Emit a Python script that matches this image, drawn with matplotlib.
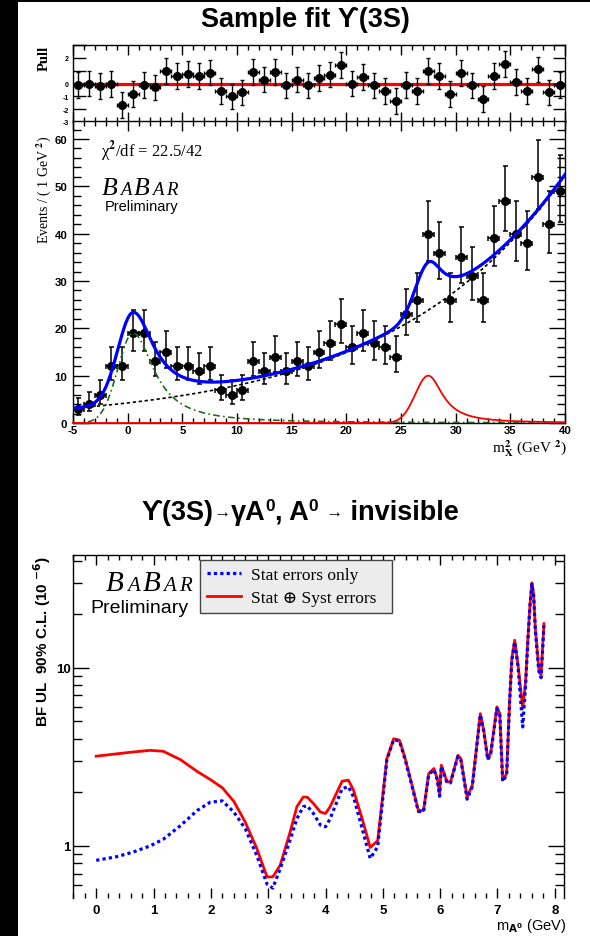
import numpy as np
import matplotlib
matplotlib.use("Agg")
import matplotlib.pyplot as plt
from matplotlib.patches import Rectangle
from matplotlib.ticker import FixedLocator, MultipleLocator, FixedFormatter, NullFormatter

SANS = ["Liberation Sans", "DejaVu Sans"]
SERIF = ["Liberation Serif", "DejaVu Serif"]

plt.rcParams.update({
    "font.family": SANS,
    "font.weight": "bold",
    "axes.unicode_minus": False,
    "mathtext.fontset": "dejavusans",
})

# ---------------- sample fit, Upsilon(3S) ----------------
mass2_edges = np.arange(-5, 41, 1)          # 45 bins of 1 GeV^2
events = [3, 4, 6, 12, 12, 19, 19, 13, 15, 12,
          12, 11, 12, 7, 6, 7, 13, 11, 14, 11,
          13, 12, 15, 17, 21, 16, 19, 17, 16, 14,
          23, 26, 40, 36, 26, 35, 31, 26, 39, 47,
          40, 38, 52, 42, 49]
pulls = [-0.1, 0.0, -0.2, -0.05, -1.7, -0.8, -0.1, -0.3, 0.95, 0.6,
         0.75, 0.6, 0.85, -0.6, -1.0, -0.7, 0.9, 0.3, 0.9, -0.15,
         0.3, -0.15, 0.45, 0.7, 1.45, 0.0, 0.5, -0.15, -0.6, -1.35,
         -0.1, -0.6, 1.0, 0.6, -0.8, 0.8, -0.15, -1.2, 0.6, 1.5,
         0.1, -0.6, 1.1, -0.7, -0.1]
pull_err = 1.0

bkg_pars = [4.24, 0.0628, 0.0]      # a*exp(b*x) + c
peak_pars = [0.5, 19.0, 1.4, 2.3]   # position, height, left sigma, right half-width
sig_pars = [27.5, 10.0, 1.2, 1.6]   # A0 signal shape at m_X^2 = 27.5
chi2_text = "22.5/42"

# ---------------- BF upper limits vs m_A0 ----------------
m_A = [0.00, 0.36, 0.65, 0.94, 1.17, 1.47, 1.76, 1.99, 2.20, 2.40,
       2.60, 2.80, 2.98, 3.08, 3.21, 3.39, 3.50, 3.61, 3.68, 3.79,
       3.91, 4.00, 4.08, 4.29, 4.40, 4.49, 4.64, 4.78, 4.91, 5.07,
       5.19, 5.29, 5.39, 5.51, 5.62, 5.71, 5.80, 5.89, 5.95, 5.99,
       6.02, 6.12, 6.18, 6.31, 6.36, 6.47, 6.56, 6.70, 6.76, 6.83,
       6.88, 6.99, 7.04, 7.09, 7.16, 7.21, 7.25, 7.30, 7.36, 7.44,
       7.49, 7.53, 7.57, 7.60, 7.63, 7.66, 7.72, 7.76, 7.81]
ul_syst = [3.19, 3.29, 3.37, 3.44, 3.40, 3.05, 2.62, 2.36, 2.12, 1.78,
           1.36, 0.97, 0.67, 0.67, 0.78, 1.22, 1.66, 1.88, 1.88, 1.73,
           1.55, 1.52, 1.66, 2.31, 2.34, 2.05, 1.42, 0.98, 1.07, 3.09,
           4.00, 3.92, 3.09, 2.19, 1.58, 1.58, 2.55, 2.72, 2.39, 1.97,
           2.84, 2.29, 2.29, 3.23, 3.09, 1.88, 2.19, 5.53, 4.46, 3.09,
           3.30, 6.04, 5.53, 2.34, 2.55, 6.44, 11.3, 14.3, 10.3, 5.91,
           8.34, 14.6, 23.5, 30.0, 26.0, 16.6, 9.9, 9.1, 17.7]
ul_stat = [0.83, 0.87, 0.925, 1.00, 1.09, 1.30, 1.58, 1.76, 1.79, 1.55,
           1.25, 0.885, 0.61, 0.58, 0.745, 1.10, 1.42, 1.66, 1.68, 1.52,
           1.31, 1.28, 1.42, 2.10, 2.15, 1.88, 1.25, 0.85, 0.99, 3.05,
           3.95, 3.88, 3.05, 2.15, 1.56, 1.56, 2.52, 2.68, 2.35, 1.90,
           2.80, 2.26, 2.26, 3.18, 3.05, 1.83, 2.15, 5.45, 4.40, 3.05,
           3.25, 5.90, 5.45, 2.30, 2.50, 6.30, 11.0, 14.0, 10.0, 4.66,
           8.00, 14.2, 23.0, 29.5, 25.5, 16.3, 9.6, 8.8, 17.3]


def background(x, a, b, c):
    return a * np.exp(b * x) + c


def peak(x, mu, h, sig_l, gam_r):
    left = h * np.exp(-0.5 * ((x - mu) / sig_l) ** 2)
    right = h / (1.0 + ((x - mu) / gam_r) ** 2)
    return np.where(x < mu, left, right)


W, H = 590, 937
fig = plt.figure(figsize=(W / 100, H / 100), dpi=100)
fig.patch.set_facecolor("black")
fig.add_artist(Rectangle((18 / W, 0), 1 - 18 / W, (H - 3) / H,
                         transform=fig.transFigure, facecolor="white",
                         edgecolor="none", zorder=-10))


def rect(l, t, r, b):
    return [l / W, 1 - b / H, (r - l) / W, (b - t) / H]


def fx(px):
    return px / W


def fy(py):
    return 1 - py / H


renderer = fig.canvas.get_renderer()


def draw_runs(x, y, runs, align="left", track=0.0, **common):
    """Consecutive text runs on one baseline; x, y in pixels from top-left."""
    items = []
    for s, size, dy, kw in runs:
        props = dict(common)
        props.update(kw)
        t = fig.text(0, 0, s, fontsize=size, va="baseline", ha="left", **props)
        w = t.get_window_extent(renderer).width
        items.append((t, w, dy))
    total = sum(w for _, w, _ in items) + track * (len(items) - 1)
    cx = x - total / 2 if align == "center" else x
    for t, w, dy in items:
        t.set_position((fx(cx), fy(y - dy)))
        cx += w + track


def style_axes(ax, lw=1.0):
    for sp in ax.spines.values():
        sp.set_linewidth(lw)
        sp.set_color("black")


# ---------------- pull panel ----------------
centers = 0.5 * (mass2_edges[:-1] + mass2_edges[1:])
n = np.asarray(events, dtype=float)
err_hi = 0.5 + np.sqrt(n + 0.25)
err_lo = np.sqrt(n + 0.25) - 0.5

ax_p = fig.add_axes(rect(73, 46, 565, 123))
ax_p.axhline(0, color="red", lw=2.3, zorder=1)
ax_p.errorbar(centers, pulls, yerr=pull_err, xerr=0.5, fmt="o", color="black",
              ms=5.5, capsize=1.6, elinewidth=1.0, capthick=1.0, zorder=3)
ax_p.set_xlim(-5, 40)
ax_p.set_ylim(-3, 3)
ax_p.xaxis.set_major_locator(MultipleLocator(5))
ax_p.xaxis.set_minor_locator(MultipleLocator(1))
ax_p.yaxis.set_major_locator(FixedLocator([-3, -2, -1, 0, 1, 2, 3]))
ax_p.yaxis.set_major_formatter(FixedFormatter(["-3", "-2", "-1", "0", "", "2", ""]))
ax_p.tick_params(axis="both", which="both", direction="in", top=True, right=True, width=1)
ax_p.tick_params(axis="x", which="major", length=7, labelbottom=False)
ax_p.tick_params(axis="x", which="minor", length=3.5)
ax_p.tick_params(axis="y", which="major", length=9, labelsize=5, pad=3)
style_axes(ax_p)

# ---------------- fit panel ----------------
ax_m = fig.add_axes(rect(73, 122, 565, 424))
xx = np.linspace(-5, 40, 1200)
bk = background(xx, *bkg_pars)
p1 = peak(xx, *peak_pars)
p2 = peak(xx, *sig_pars)
ax_m.errorbar(centers, n, yerr=[err_lo, err_hi], xerr=0.5, fmt="o", color="black",
              ms=5.5, capsize=1.8, elinewidth=1.1, capthick=1.1, zorder=2)
ax_m.plot(xx, bk, color="black", lw=1.2, ls=(0, (2, 1.6)), zorder=3)
ax_m.plot(xx, p1, color="#1f6b1f", lw=1.2, ls=(0, (4, 2, 1, 2)), zorder=3)
ax_m.plot(xx, p2, color="red", lw=1.3, zorder=4, clip_on=False)
ax_m.plot(xx, bk + p1 + p2, color="#0000ff", lw=2.3, zorder=5)
ax_m.set_xlim(-5, 40)
ax_m.set_ylim(0, 63.8)
ax_m.xaxis.set_major_locator(MultipleLocator(5))
ax_m.xaxis.set_minor_locator(MultipleLocator(1))
ax_m.yaxis.set_major_locator(MultipleLocator(10))
ax_m.yaxis.set_minor_locator(MultipleLocator(2))
ax_m.tick_params(axis="both", which="both", direction="in", top=True, right=True, width=1)
ax_m.tick_params(axis="x", which="major", length=7, labelsize=8.2, pad=1.5)
ax_m.tick_params(axis="x", which="minor", length=3.5)
ax_m.tick_params(axis="y", which="major", length=11.5, labelsize=8.2, pad=4)
ax_m.tick_params(axis="y", which="minor", length=5.5)
style_axes(ax_m)

fig.text(fx(101), fy(157), "χ$^{2}$/df = " + chi2_text, fontsize=12,
         family=SERIF, fontweight="normal", math_fontfamily="stix",
         ha="left", va="baseline")
draw_runs(102, 195, [("B", 18.5, 0, {}), ("A", 13.5, 0, {}), ("B", 18.5, 0, {}),
                     ("A", 13.5, 0, {}), ("R", 13.5, 0, {})],
          track=2.5, family=SERIF, style="italic", fontweight="normal")
fig.text(fx(105), fy(211), "Preliminary", fontsize=10.5, fontweight="normal",
         ha="left", va="baseline")
fig.text(fx(44), fy(190), "Events / ( 1 GeV $^{2}$)", rotation=90, fontsize=10,
         family=SERIF, fontweight="normal", math_fontfamily="stix",
         ha="center", va="center")
fig.text(fx(44), fy(58), "Pull", rotation=90, fontsize=10.5, family=SERIF,
         fontweight="bold", ha="center", va="center")
fig.text(fx(492), fy(453), "m$^{2}_{\\mathrm{X}}$ (GeV $^{2}$)", fontsize=11,
         family=SERIF, fontweight="normal", math_fontfamily="stix",
         ha="left", va="baseline")
fig.text(fx(305), fy(27), "Sample fit ϒ(3S)", fontsize=19.5, fontweight="bold",
         ha="center", va="baseline")

# ---------------- upper limit panel ----------------
draw_runs(300, 520, [("ϒ(3S)", 19.5, 0, {}), ("→", 12.5, 2, {}), ("γA", 19.5, 0, {}),
                     ("0", 12.5, 9, {}), (", A", 19.5, 0, {}), ("0", 12.5, 9, {}),
                     (" ", 19.5, 0, {}), ("→", 12.5, 2, {}), (" invisible", 19.5, 0, {})],
          align="center", fontweight="bold")

ax_b = fig.add_axes(rect(72.7, 556, 564, 899))
l_syst, = ax_b.plot(m_A, ul_syst, color="red", lw=2.0, zorder=3)
l_stat, = ax_b.plot(m_A, ul_stat, color="#0000ff", lw=2.3, ls=(0, (1, 1)), zorder=4)
ax_b.set_yscale("log")
ax_b.set_xlim(-0.41, 8.16)
ax_b.set_ylim(0.51, 43)
ax_b.xaxis.set_major_locator(MultipleLocator(1))
ax_b.xaxis.set_minor_locator(MultipleLocator(0.2))
ax_b.yaxis.set_major_locator(FixedLocator([1, 10]))
ax_b.yaxis.set_major_formatter(FixedFormatter(["1", "10"]))
ax_b.yaxis.set_minor_locator(FixedLocator([0.6, 0.7, 0.8, 0.9, 2, 3, 4, 5, 6, 7, 8, 9, 20, 30, 40]))
ax_b.yaxis.set_minor_formatter(NullFormatter())
ax_b.tick_params(axis="both", which="both", direction="in", top=True, right=True, width=1)
ax_b.tick_params(axis="x", which="major", length=7.2, labelsize=9.5, pad=4.5)
ax_b.tick_params(axis="x", which="minor", length=3.6)
ax_b.tick_params(axis="y", which="major", length=11.5, labelsize=9.5, pad=1.5)
ax_b.tick_params(axis="y", which="minor", length=6.5)
style_axes(ax_b)
ax_b.spines["bottom"].set_visible(False)

leg = ax_b.legend([l_stat, l_syst], ["Stat errors only", "Stat ⊕ Syst errors"],
                  loc="upper left", mode="expand",
                  bbox_to_anchor=(fx(200), fy(560) - 0.001, 192 / W, 0.0),
                  bbox_transform=fig.transFigure, frameon=True, fancybox=False,
                  facecolor="#ececec", edgecolor="#444444", framealpha=1,
                  prop={"family": SERIF, "size": 12.5, "weight": "normal"},
                  handlelength=1.95, handletextpad=0.57, borderpad=0.42,
                  labelspacing=0.38, borderaxespad=0)
leg.get_frame().set_linewidth(1.0)

draw_runs(106, 591, [("B", 21, 0, {}), ("A", 15, 0, {}), ("B", 21, 0, {}),
                     ("A", 15, 0, {}), ("R", 15, 0, {})],
          track=3, family=SERIF, style="italic", fontweight="normal")
fig.text(fx(90), fy(613), "Preliminary", fontsize=14, fontweight="normal",
         ha="left", va="baseline")
fig.text(fx(42), fy(642), "BF UL  90% C.L. (10 $^{-6}$)", rotation=90, fontsize=11,
         fontweight="bold", ha="center", va="center")
fig.text(fx(496), fy(930), "m$_{\\mathrm{A}^{0}}$ (GeV)", fontsize=10.5,
         fontweight="normal", ha="left", va="baseline")

fig.savefig("out.png", dpi=100, facecolor=fig.get_facecolor())
